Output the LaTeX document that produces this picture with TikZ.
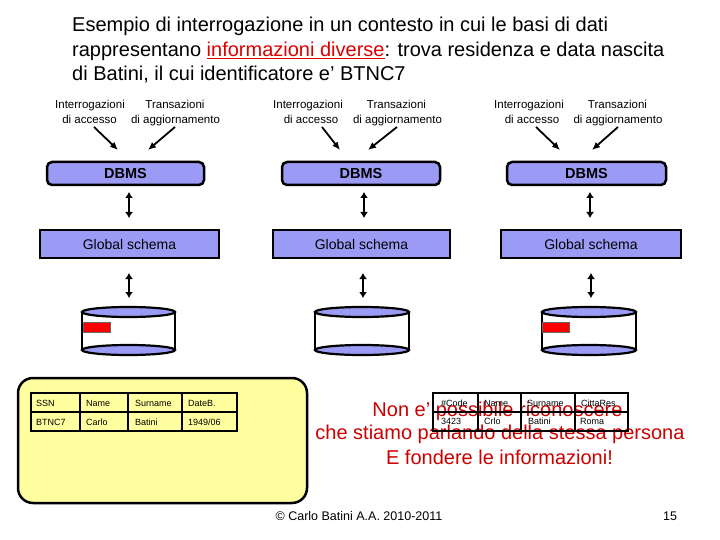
\documentclass[tikz,border=0pt]{standalone}
\usepackage{fontspec}
\setmainfont{Liberation Sans}
\usetikzlibrary{arrows.meta}
\definecolor{lav}{RGB}{155,155,245}
\definecolor{paleyellow}{RGB}{255,255,160}
\definecolor{darkred}{RGB}{205,0,0}
\definecolor{titlered}{RGB}{220,0,0}
\begin{document}
\begin{tikzpicture}[x=1pt,y=-1pt,
  dbmsbox/.style={draw=black,line width=2.5pt,fill=lav,rounded corners=5pt,inner sep=0pt,font=\fontsize{14.5}{15}\selectfont\bfseries},
  gsbox/.style={draw=black,line width=2.5pt,fill=lav,inner sep=0pt,font=\fontsize{14}{15}\selectfont},
  lbl/.style={anchor=base,inner sep=0pt,font=\fontsize{11.5}{15}\selectfont},
  inarrow/.style={line width=1.8pt,-{Latex[length=8pt,width=7pt]}},
  dblarrow/.style={line width=2.2pt,{Latex[length=6pt,width=8pt]}-{Latex[length=6pt,width=8pt]}},
  tcell/.style={anchor=west,inner sep=0pt,font=\fontsize{9}{10}\selectfont},
  redtxt/.style={text=darkred,inner sep=0pt,font=\fontsize{20}{22}\selectfont},
  ttl/.style={anchor=base west,inner sep=0pt,font=\fontsize{20}{24}\selectfont},
  foot/.style={inner sep=0pt,font=\fontsize{12.5}{13}\selectfont}]
\useasboundingbox (0,0) rectangle (720,540);
\fill[white] (0,0) rectangle (720,540);

% title
\node[ttl] (t1) at (72,32) {Esempio di interrogazione in un contesto in cui le basi di dati};
\node[ttl] (t2) at (72,57) {rappresentano {\color{titlered}\underline{informazioni diverse}}: trova residenza e data nascita};
\node[ttl] (t3) at (72,81) {di Batini, il cui identificatore e’ BTNC7};

% column labels
\node[lbl] (q1a) at (90,109) {Interrogazioni};
\node[lbl] (q1b) at (89.5,124) {di accesso};
\node[lbl] (u1a) at (175,109) {Transazioni};
\node[lbl] (u1b) at (175.5,124) {di aggiornamento};
\node[lbl] (q2a) at (308,109) {Interrogazioni};
\node[lbl] (q2b) at (311,124) {di accesso};
\node[lbl] (u2a) at (396.5,109) {Transazioni};
\node[lbl] (u2b) at (397.5,124) {di aggiornamento};
\node[lbl] (q3a) at (529,109) {Interrogazioni};
\node[lbl] (q3b) at (532,124) {di accesso};
\node[lbl] (u3a) at (617.5,109) {Transazioni};
\node[lbl] (u3b) at (618,124) {di aggiornamento};

% DBMS boxes
\node[dbmsbox,minimum width=157pt,minimum height=23pt] (d1) at (125.5,173.5) {DBMS};
\node[dbmsbox,minimum width=158pt,minimum height=23pt] (d2) at (361,173.5) {DBMS};
\node[dbmsbox,minimum width=159pt,minimum height=23pt] (d3) at (586.5,173.5) {DBMS};

% global schema boxes
\node[gsbox,minimum width=179pt,minimum height=28pt] (g1) at (129.5,244) {Global schema};
\node[gsbox,minimum width=177pt,minimum height=28pt] (g2) at (361.5,244) {Global schema};
\node[gsbox,minimum width=180pt,minimum height=28pt] (g3) at (591,244) {Global schema};

% incoming arrows
\coordinate (q1s) at (94,127);  \coordinate (q1e) at (118,150);
\coordinate (u1s) at (175,127); \coordinate (u1e) at (148,150);
\coordinate (q2s) at (322,127); \coordinate (q2e) at (340,150);
\coordinate (u2s) at (397,127); \coordinate (u2e) at (368,150);
\coordinate (q3s) at (536,127); \coordinate (q3e) at (560,150);
\coordinate (u3s) at (618,127); \coordinate (u3e) at (592,150);
\foreach \a in {q1,u1,q2,u2,q3,u3} {\draw[inarrow] (\a s) -- (\a e);}

% double arrows DBMS <-> global schema
\coordinate (a1t) at (129,192); \coordinate (a1b) at (129,218);
\coordinate (a2t) at (364,192); \coordinate (a2b) at (364,218);
\coordinate (a3t) at (590,192); \coordinate (a3b) at (590,218);
\foreach \i in {1,2,3} {\draw[dblarrow] (a\i t) -- (a\i b);}

% double arrows global schema <-> db
\coordinate (b1t) at (129,273); \coordinate (b1b) at (129,298);
\coordinate (b2t) at (363,273); \coordinate (b2b) at (363,298);
\coordinate (b3t) at (591,273); \coordinate (b3b) at (591,298);
\foreach \i in {1,2,3} {\draw[dblarrow] (b\i t) -- (b\i b);}

% cylinders
\foreach \l/\r in {82/175,315/409,542/636} {
  \pgfmathsetmacro{\cx}{(\l+\r)/2}
  \pgfmathsetmacro{\rx}{(\r-\l)/2}
  \fill[white] (\l,312) rectangle (\r,350);
  \draw[line width=2.2pt] (\l,312) -- (\l,350) (\r,312) -- (\r,350);
  \draw[line width=2.2pt,fill=lav] (\cx,350) ellipse [x radius=\rx, y radius=5];
  \draw[line width=2.2pt,fill=lav] (\cx,312) ellipse [x radius=\rx, y radius=5];
}
\draw[fill=red,draw=black!60,line width=0.5pt] (83,322) rectangle (110,332);
\draw[fill=red,draw=black!60,line width=0.5pt] (542,322) rectangle (569,332);

% yellow box with table
\draw[line width=2.5pt,fill=paleyellow,rounded corners=15pt] (18,378) rectangle (307,503);
\draw[line width=2pt] (31,393) rectangle (237,431);
\draw[line width=2pt] (31,412) -- (237,412) (80,393) -- (80,431) (128,393) -- (128,431) (182,393) -- (182,431);
\node[tcell] (c11) at (36,403) {SSN};
\node[tcell] (c12) at (86,403) {Name};
\node[tcell] (c13) at (135,403) {Surname};
\node[tcell] (c14) at (188,403) {DateB.};
\node[tcell] (c21) at (36,422) {BTNC7};
\node[tcell] (c22) at (86,422) {Carlo};
\node[tcell] (c23) at (135,422) {Batini};
\node[tcell] (c24) at (188,422) {1949/06};

% red text
\node[redtxt] (r1) at (497.5,411) {Non e’ possibile riconoscere};
\node[redtxt] (r2) at (500,434) {che stiamo parlando della stessa persona};
\node[redtxt] (r3) at (499.5,457) {E fondere le informazioni!};

% second table
\draw[line width=2pt] (433,393) rectangle (628,431);
\draw[line width=2pt] (433,412) -- (628,412) (478,393) -- (478,431) (521,393) -- (521,431) (575,393) -- (575,431);
\node[tcell] (e11) at (441,403) {\#Code};
\node[tcell] (e12) at (484,403) {Name};
\node[tcell] (e13) at (527,403) {Surname};
\node[tcell] (e14) at (581,403) {CittaRes};
\node[tcell] (e21) at (441,421) {3423};
\node[tcell] (e22) at (484,421) {Crlo};
\node[tcell] (e23) at (528,421) {Batini};
\node[tcell] (e24) at (580,421) {Roma};

% footer
\node[foot] (f1) at (359,516) {© Carlo Batini A.A. 2010-2011};
\node[foot] (f2) at (670,516) {15};
\end{tikzpicture}
\end{document}
